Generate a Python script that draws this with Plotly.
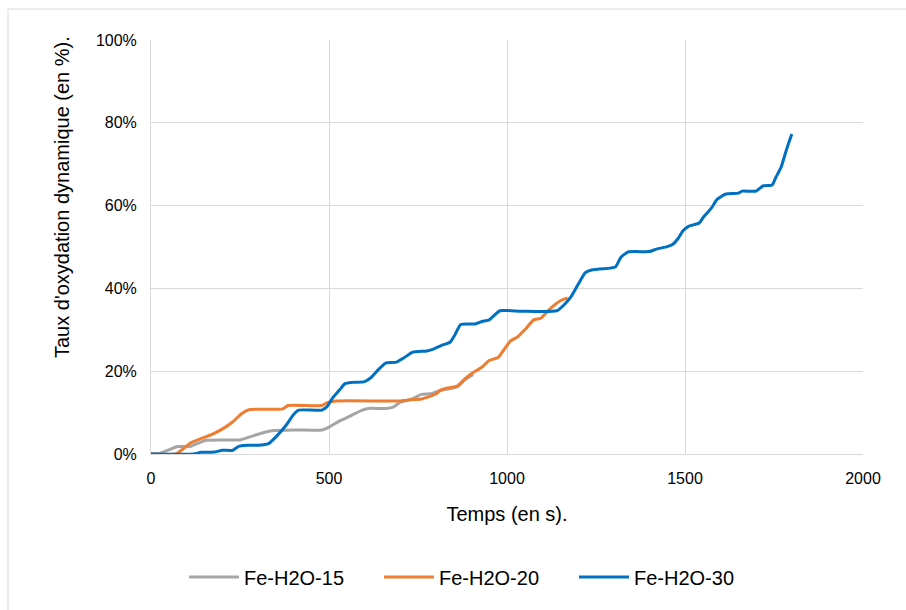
import plotly.graph_objects as go

# ---- data (time in s, oxidation rate in %) ----
t15 = [0, 25, 50, 75, 110, 130, 155, 200, 250, 280, 310, 340, 400, 480, 500, 530, 560, 590, 610, 660,
       680, 700, 730, 760, 790, 810, 840, 860, 880, 905]
y15 = [0, 0.2, 1.0, 1.8, 1.8, 2.5, 3.3, 3.4, 3.4, 4.2, 5.0, 5.6, 5.8, 5.8, 6.5, 8.0, 9.2, 10.5, 11.0, 11.0,
       11.3, 12.5, 13.2, 14.4, 14.6, 15.3, 15.8, 16.2, 17.8, 19.2]

t20 = [0, 70, 90, 110, 140, 170, 200, 230, 255, 275, 300, 370, 385, 480, 495, 520, 700, 720, 760, 780,
       800, 815, 830, 860, 880, 900, 930, 950, 975, 990, 1010, 1030, 1050, 1075, 1095, 1120, 1150, 1170]
y20 = [0, 0, 1.2, 2.6, 3.7, 4.7, 6.0, 7.8, 9.8, 10.7, 10.8, 10.9, 11.7, 11.7, 12.4, 12.8, 12.8, 13.0, 13.3, 13.8,
       14.5, 15.5, 15.9, 16.4, 18.0, 19.4, 21.0, 22.6, 23.3, 25.0, 27.3, 28.3, 30.0, 32.4, 32.8, 35.0, 37.0, 37.7]

t30 = [0, 120, 140, 180, 200, 230, 245, 270, 300, 330, 355, 380, 400, 415, 480, 495, 510, 530, 545, 565,
       600, 620, 640, 660, 690, 710, 735, 775, 795, 815, 840, 855, 870, 910, 930, 950, 980, 1040, 1140, 1160,
       1180, 1200, 1220, 1240, 1290, 1305, 1320, 1340, 1400, 1420, 1450, 1465, 1480, 1495, 1510, 1540, 1550,
       1575, 1590, 1615, 1650, 1660, 1700, 1720, 1745, 1755, 1770, 1785, 1800]
y30 = [0, 0, 0.4, 0.5, 0.9, 0.9, 1.8, 2.1, 2.1, 2.5, 4.5, 7.0, 9.5, 10.6, 10.6, 11.5, 13.5, 15.5, 17.0, 17.3,
       17.5, 18.6, 20.5, 22.0, 22.2, 23.2, 24.6, 24.9, 25.4, 26.2, 27.0, 29.0, 31.3, 31.4, 32.0, 32.4, 34.6, 34.5,
       34.6, 36.0, 38.0, 41.0, 43.8, 44.5, 44.9, 45.2, 47.5, 48.8, 48.9, 49.5, 50.1, 50.6, 52.0, 54.0, 55.0, 55.8,
       57.0, 59.5, 61.5, 62.8, 63.0, 63.5, 63.5, 64.8, 65.0, 66.8, 69.3, 73.5, 77.3]

names = ["Fe-H2O-15", "Fe-H2O-20", "Fe-H2O-30"]
colors = ["#A5A5A5", "#ED7D31", "#0070C0"]

x_ticks = [0, 500, 1000, 1500, 2000]
y_ticks = [0, 20, 40, 60, 80, 100]
y_tick_labels = ["0%", "20%", "40%", "60%", "80%", "100%"]

W, H = 906, 610
L, R, T, B = 151, 863, 40, 454

def px(xp):
    return (xp - L) / (R - L)

def py(yp):
    return (B - yp) / (B - T)

FONT = "Liberation Sans, Arial, sans-serif"

fig = go.Figure()
for t, y, n, c in zip([t15, t20, t30], [y15, y20, y30], names, colors):
    fig.add_trace(go.Scatter(x=t, y=y, name=n, mode="lines",
                             line=dict(color=c, width=3, shape="spline", smoothing=0.5)))

fig.update_layout(
    width=W, height=H,
    margin=dict(l=L, r=W - R, t=T, b=H - B),
    paper_bgcolor="white", plot_bgcolor="white",
    font=dict(family=FONT, size=16, color="#000000"),
    showlegend=True,
    legend=dict(orientation="h", x=px(184), xanchor="left", y=py(577), yanchor="middle",
                font=dict(size=20), itemwidth=50, entrywidth=130, entrywidthmode="pixels",
                bgcolor="rgba(0,0,0,0)"),
    xaxis=dict(range=[0, 2000], tickvals=x_ticks, showgrid=True,
               gridcolor="#D9D9D9", gridwidth=1, zeroline=False, showline=True, linecolor="#D9D9D9",
               linewidth=1, ticks="", ticklabelstandoff=10, tickfont=dict(size=16),
               title=dict(text="Temps (en s).", font=dict(size=20), standoff=20)),
    yaxis=dict(range=[0, 100], tickvals=y_ticks, ticktext=y_tick_labels, showgrid=True,
               gridcolor="#D9D9D9", gridwidth=1, zeroline=False, showline=True, linecolor="#D9D9D9",
               linewidth=1, ticks="", ticklabelstandoff=10, tickfont=dict(size=16)),
    annotations=[dict(text="Taux d'oxydation dynamique (en %).", xref="paper", yref="paper",
                      x=px(62), y=py(197), textangle=-90, showarrow=False,
                      font=dict(size=20), xanchor="center", yanchor="middle")],
    shapes=[dict(type="rect", xref="paper", yref="paper", x0=px(8), y0=py(640), x1=px(930), y1=py(9),
                 line=dict(color="#D9D9D9", width=1), layer="below")],
)

fig.write_html("out.html", config={"displayModeBar": False},
               post_script="document.body.style.margin='0';document.body.style.padding='0';")
